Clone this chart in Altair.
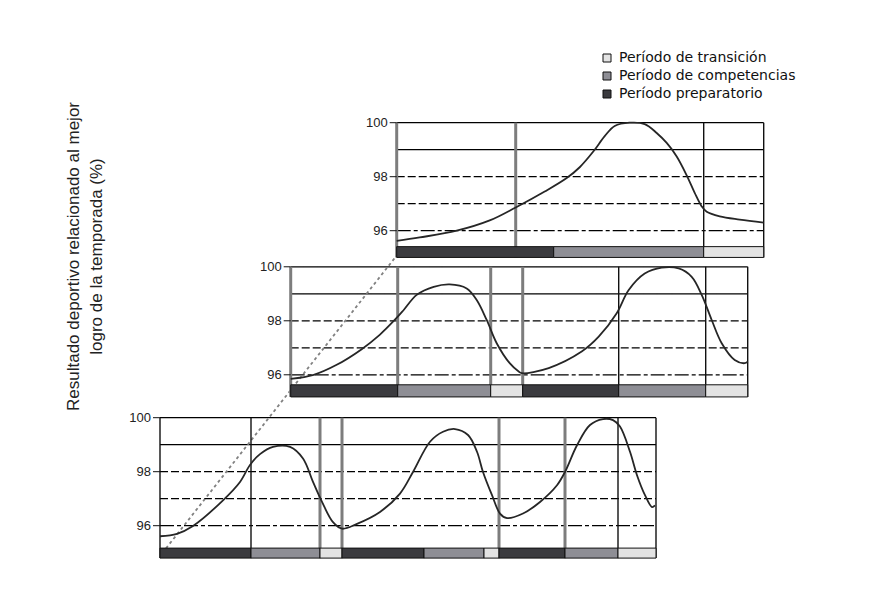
import altair as alt
import pandas as pd

# ---------------- data ----------------
TITLE_LINES = ["Resultado deportivo relacionado al mejor", "logro de la temporada (%)"]
PERIOD_NAMES = ["Período de transición", "Período de competencias", "Período preparatorio"]
PERIOD_COLORS = ["#e3e3e3", "#8e8e95", "#3b3b3f"]
TRANS, COMP, PREP = PERIOD_NAMES

Y_TICKS = [100, 98, 96]
GRID_LEVELS = [100, 99, 98, 97, 96]
GRID_STYLES = ["solid", "solid", "dash", "dash", "dashdot"]

# top panel (single cycle): time units from the start of the season, performance %
SIMPLE_T = [0, 23, 60, 93, 119, 148, 170, 183, 197, 208, 218, 233, 248, 260, 270, 280, 290, 298, 305, 310, 323, 343, 367]
SIMPLE_V = [95.62, 95.75, 96.0, 96.38, 96.86, 97.45, 97.95, 98.35, 98.95, 99.5, 99.88, 100.0, 99.95, 99.62, 99.25,
            98.75, 98.05, 97.4, 96.9, 96.7, 96.53, 96.41, 96.3]
SIMPLE_PERIODS = [PREP, COMP, TRANS]
SIMPLE_LENGTHS = [157, 150, 60]
SIMPLE_DIVIDERS = [0, 119, 307, 367]
SIMPLE_KIND = ["gris", "gris", "negro", "negro"]

# middle panel (double cycle)
DOBLE_T = [0, 23, 46, 71, 89, 104, 113, 126, 143, 159, 176, 186, 196, 206, 219, 228, 231, 258, 291, 308, 326, 338,
           354, 371, 388, 401, 411, 421, 431, 444, 454, 457]
DOBLE_V = [95.85, 96.0, 96.37, 96.95, 97.48, 98.03, 98.4, 98.96, 99.26, 99.35, 99.2, 98.77, 98.03, 97.17, 96.43,
           96.12, 96.06, 96.25, 96.86, 97.41, 98.28, 99.14, 99.75, 99.97, 99.94, 99.63, 98.96, 98.03, 97.17, 96.55,
           96.43, 96.49]
DOBLE_PERIODS = [PREP, COMP, TRANS, PREP, COMP, TRANS]
DOBLE_LENGTHS = [107, 93, 32, 96, 87, 42]
DOBLE_DIVIDERS = [0, 107, 200, 232, 328, 415, 457]
DOBLE_KIND = ["gris", "gris", "gris", "gris", "negro", "negro", "negro"]

# bottom panel (triple cycle)
TRIPLE_T = [0, 17, 33, 63, 80, 90, 100, 113, 130, 143, 153, 162, 173, 182, 197, 220, 240, 253, 270, 283, 295, 308,
            317, 323, 332, 340, 347, 363, 380, 397, 405, 417, 430, 443, 453, 460, 470, 477, 485, 492, 495]
TRIPLE_V = [95.61, 95.70, 95.99, 96.94, 97.62, 98.25, 98.65, 98.92, 98.92, 98.49, 97.62, 96.88, 96.13, 95.89, 96.07,
            96.51, 97.19, 97.99, 99.11, 99.48, 99.58, 99.36, 98.74, 97.99, 97.13, 96.45, 96.28, 96.45, 96.88, 97.5,
            97.99, 98.98, 99.73, 99.95, 99.91, 99.67, 98.74, 97.87, 97.13, 96.69, 96.75]
TRIPLE_PERIODS = [PREP, COMP, TRANS, PREP, COMP, TRANS, PREP, COMP, TRANS]
TRIPLE_LENGTHS = [91, 69, 22, 82, 60, 15, 66, 53, 38]
TRIPLE_DIVIDERS = [0, 91, 160, 182, 339, 405, 458, 496]
TRIPLE_KIND = ["negro", "negro", "gris", "gris", "gris", "gris", "negro", "negro"]

# dotted guide line: (panel, time, value)
DIAG_PANEL = ["triple", "simple"]
DIAG_T = [6, -1.7]
DIAG_V = [95.16, 95.0]

# ---------------- layout (not data) ----------------
W, H = 861, 588
PX_PER_UNIT = 27.0
Y_HI = 104.248
Y_LO = Y_HI - H / PX_PER_UNIT
LAYOUT = {
    "simple": dict(left=388.7, dy=0.0, bottom=95.01, bar_top=95.41),
    "doble": dict(left=282.7, dy=-5.337, bottom=95.18, bar_top=95.63),
    "triple": dict(left=152.0, dy=-10.926, bottom=94.80, bar_top=95.17),
}
PANELS = {
    "simple": (SIMPLE_T, SIMPLE_V, SIMPLE_PERIODS, SIMPLE_LENGTHS, SIMPLE_DIVIDERS, SIMPLE_KIND),
    "doble": (DOBLE_T, DOBLE_V, DOBLE_PERIODS, DOBLE_LENGTHS, DOBLE_DIVIDERS, DOBLE_KIND),
    "triple": (TRIPLE_T, TRIPLE_V, TRIPLE_PERIODS, TRIPLE_LENGTHS, TRIPLE_DIVIDERS, TRIPLE_KIND),
}

curve_rows, bar_rows, h_rows, v_rows, lab_rows, tick_rows = [], [], [], [], [], []
for name, (ts, vs, periods, lengths, dividers, kinds) in PANELS.items():
    L = LAYOUT[name]
    left, dy = L["left"], L["dy"]
    total = sum(lengths)
    for i, (t, v) in enumerate(zip(ts, vs)):
        curve_rows.append(dict(panel=name, i=i, gx=left + t, gy=v + dy))
    start = 0
    for p, ln in zip(periods, lengths):
        bar_rows.append(dict(periodo=p, gx=left + start, gx2=left + start + ln,
                             gy=L["bottom"] + dy, gy2=L["bar_top"] + dy))
        start += ln
    for lev, sty in zip(GRID_LEVELS, GRID_STYLES):
        h_rows.append(dict(style=sty, gx=left, gx2=left + total, gy=lev + dy))
    for t, k in zip(dividers, kinds):
        v_rows.append(dict(kind=k, gx=left + t, gy=L["bottom"] + dy, gy2=100 + dy))
    for v in Y_TICKS:
        lab_rows.append(dict(gx=left - 9, gy=v + dy, text=str(v)))
        tick_rows.append(dict(gx=left - 7, gx2=left, gy=v + dy))

diag_rows = [dict(i=i, gx=LAYOUT[p]["left"] + t, gy=v + LAYOUT[p]["dy"])
             for i, (p, t, v) in enumerate(zip(DIAG_PANEL, DIAG_T, DIAG_V))]

curves = pd.DataFrame(curve_rows)
bars = pd.DataFrame(bar_rows)
hlines = pd.DataFrame(h_rows)
vlines = pd.DataFrame(v_rows)
labels = pd.DataFrame(lab_rows)
ticks = pd.DataFrame(tick_rows)
diag = pd.DataFrame(diag_rows)

XS = alt.Scale(domain=[0, W], nice=False, zero=False)
YS = alt.Scale(domain=[Y_LO, Y_HI], nice=False, zero=False)
Y_AXIS = alt.Axis(title=TITLE_LINES, labels=False, ticks=False, domain=False, grid=False,
                  titleX=70, titleY=248, titleAngle=270, titleAlign="center",
                  titleBaseline="alphabetic", titleLineHeight=23, titleFont="Liberation Sans",
                  titleFontSize=17, titleFontWeight="normal", titleColor="#222222", titleLimit=0)


def X(f):
    return alt.X(f"{f}:Q", scale=XS, axis=None)


def Y(f):
    return alt.Y(f"{f}:Q", scale=YS, axis=Y_AXIS)


layers = []
dash_map = {"solid": [1, 0], "dash": [8, 3], "dashdot": [14, 3, 4, 3]}
for sty, dash in dash_map.items():
    layers.append(
        alt.Chart(hlines[hlines["style"] == sty]).mark_rule(color="black", strokeWidth=1.2, strokeDash=dash)
        .encode(x=X("gx"), x2="gx2:Q", y=Y("gy"))
    )

layers.append(
    alt.Chart(diag).mark_line(color="#808080", strokeWidth=1.8, strokeDash=[3, 3])
    .encode(x=X("gx"), y=Y("gy"), order="i:Q")
)

layers.append(
    alt.Chart(vlines[vlines["kind"] == "gris"]).mark_rule(color="#7d7d7d", strokeWidth=3)
    .encode(x=X("gx"), y=Y("gy"), y2="gy2:Q")
)
layers.append(
    alt.Chart(vlines[vlines["kind"] == "negro"]).mark_rule(color="#111111", strokeWidth=1.4)
    .encode(x=X("gx"), y=Y("gy"), y2="gy2:Q")
)

layers.append(
    alt.Chart(bars).mark_rect(stroke="#111111", strokeWidth=1)
    .encode(
        x=X("gx"), x2="gx2:Q", y=Y("gy"), y2="gy2:Q",
        color=alt.Color("periodo:N", scale=alt.Scale(domain=PERIOD_NAMES, range=PERIOD_COLORS),
                        legend=alt.Legend(title=None, orient="none", legendX=592, legendY=43,
                                          symbolType="square", symbolSize=64,
                                          symbolStrokeColor="#111111", symbolStrokeWidth=1,
                                          symbolOpacity=1, labelFont="DejaVu Sans", labelFontSize=14,
                                          labelColor="#111111", rowPadding=4, labelOffset=5, padding=0,
                                          labelLimit=0)),
    )
)

layers.append(
    alt.Chart(curves).mark_line(color="#262626", strokeWidth=1.8, interpolate="catmull-rom")
    .encode(x=X("gx"), y=Y("gy"), detail="panel:N", order="i:Q")
)

layers.append(
    alt.Chart(ticks).mark_rule(color="#111111", strokeWidth=1)
    .encode(x=X("gx"), x2="gx2:Q", y=Y("gy"))
)
layers.append(
    alt.Chart(labels).mark_text(align="right", baseline="middle", font="Liberation Sans", fontSize=13,
                                color="#222222")
    .encode(x=X("gx"), y=Y("gy"), text="text:N")
)

chart = (
    alt.layer(*layers)
    .properties(width=W, height=H, autosize=alt.AutoSizeParams(type="none"), padding=0, background="white")
    .configure_view(strokeWidth=0)
)

chart.save("out.html", embed_options={"renderer": "svg", "actions": False})
